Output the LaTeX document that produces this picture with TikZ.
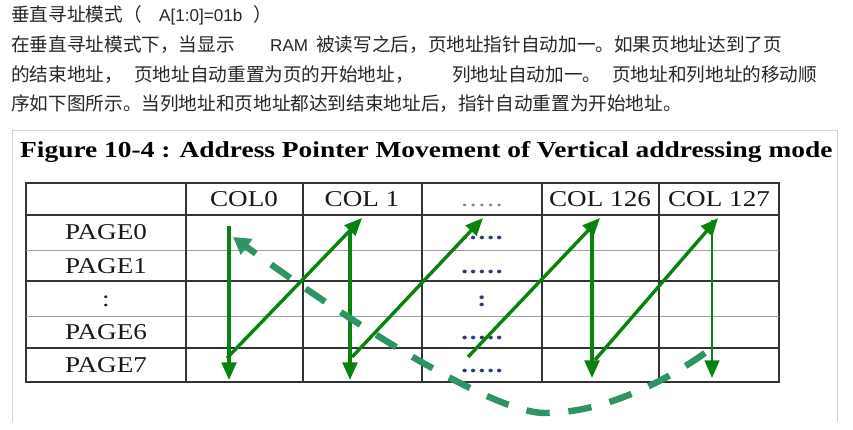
\documentclass[tikz,border=0pt]{standalone}
\usepackage{fontspec}
\setmainfont{Liberation Serif}
\newfontfamily\cjk{Noto Sans CJK SC}
\newfontfamily\arialfont{Liberation Sans}
\newfontfamily\figfont[FakeStretch=1.2]{Liberation Serif}
\usepackage{tikz}
\usetikzlibrary{arrows.meta}
\usepackage{xcolor}
\definecolor{flowgreen}{HTML}{0A820F}
\definecolor{backgreen}{HTML}{2E9463}
\definecolor{gridgray}{HTML}{333333}
\definecolor{dotblue}{HTML}{2C3E73}
\newcommand{\celldots}{.\kern1.6pt.\kern1.6pt.\kern1.6pt.\kern1.6pt.}

\begin{document}
\begin{tikzpicture}[x=0.03cm, y=-0.03cm,
  txt/.style={anchor=base west, inner sep=0pt, text=black!85,
    font=\cjk\fontsize{15.9}{19}\selectfont},
  latin/.style={txt, font=\arialfont\fontsize{14.6}{17}\selectfont},
  cell/.style={anchor=base, inner sep=0pt, text=black!90,
    font=\figfont\fontsize{19.3}{22}\selectfont},
  flow/.style={flowgreen, line width=2.9pt,
    -{Triangle[length=15pt, width=12.5pt]}},
  back/.style={backgreen, line width=5.5pt, dash pattern=on 20pt off 16pt,
    -{Triangle[length=14.5pt, width=16pt]}}]
  \useasboundingbox (0,0) rectangle (853,430);

  % Description
  \node[txt] (l1a) at (11,22) {垂直寻址模式（};
  \node[latin] (l1b) at (159,22) {A[1:0]=01b};
  \node[txt] (l1c) at (253,22) {）};
  \node[txt] (l2a) at (11,52) {在垂直寻址模式下，当显示};
  \node[latin] (l2b) at (270,52) {RAM};
  \node[txt] (l2c) at (316,52) {被读写之后，页地址指针自动加一。如果页地址达到了页};
  \node[txt] (l3a) at (11,82) {的结束地址，};
  \node[txt] (l3b) at (134,82) {页地址自动重置为页的开始地址，};
  \node[txt] (l3c) at (452,82) {列地址自动加一。};
  \node[txt] (l3d) at (612,82) {页地址和列地址的移动顺};
  \node[txt] (l4a) at (11,111)
    {序如下图所示。当列地址和页地址都达到结束地址后，指针自动重置为开始地址。};

  % Figure frame
  \draw[gray!35] (12,422) -- (12,130) -- (837,130) -- (837,422);
  \node[anchor=base west, inner sep=0pt,
    font=\figfont\bfseries\fontsize{19.5}{23}\selectfont] (title) at (20,158)
    {Figure 10-4 : Address Pointer Movement of Vertical addressing mode};

  % Table
  \draw[gridgray, line width=1pt] (26,183) rectangle (779,382);
  \foreach \y in {215,281,348}
    \draw[gridgray, line width=1pt] (26,\y) -- (779,\y);
  \foreach \y in {250,316}
    \draw[gray!75, line width=0.8pt] (26,\y) -- (779,\y);
  \foreach \x in {186,303,422,542,659}
    \draw[gridgray, line width=0.9pt] (\x,183) -- (\x,382);

  \foreach \x/\t [count=\i] in {244/COL0, 362/COL 1, 600/COL 126, 719/COL 127}
    \node[cell] (col\i) at (\x,207) {\t};
  \node[cell, text=gray] (colx) at (482,207) {\celldots};
  \foreach \y/\t [count=\i] in {240/PAGE0, 273/PAGE1, 306/:, 339.5/PAGE6, 372.5/PAGE7}
    \node[cell] (page\i) at (106,\y) {\t};
  \foreach \y/\t [count=\i] in {240/\celldots, 273/\celldots, 306/:,
      339.5/\celldots, 372.5/\celldots}
    \node[cell, text=dotblue, font=\figfont\bfseries\fontsize{19.3}{22}\selectfont]
      (dots\i) at (482,\y) {\t};

  % Pointer movement
  \coordinate (t0) at (229,226); \coordinate (b0) at (229,380);
  \coordinate (t1) at (350,231); \coordinate (b1) at (350,380);
  \coordinate (t2) at (592,222); \coordinate (b2) at (592,378);
  \coordinate (t3) at (712,220); \coordinate (b3) at (712,378);
  \coordinate (s1) at (227,358); \coordinate (e1) at (362,218);
  \coordinate (s2) at (352,357); \coordinate (e2) at (483,218);
  \coordinate (s3) at (468,357); \coordinate (e3) at (600,218);
  \coordinate (s4) at (595,360); \coordinate (e4) at (718,218);
  \foreach \i in {0,1,2}
    \draw[flow] (t\i) -- (b\i);
  \draw[flow, line width=2pt] (t3) -- (b3);
  \foreach \i in {1,...,4}
    \draw[flow] (s\i) -- (e\i);

  % Wrap-around
  \coordinate (bs) at (705,353);
  \coordinate (bm) at (545,413);
  \coordinate (be) at (233,237);
  \draw[back] (bs) .. controls (660,385) and (600,413) .. (bm)
    .. controls (490,413) and (340,315) .. (be);
\end{tikzpicture}
\end{document}
